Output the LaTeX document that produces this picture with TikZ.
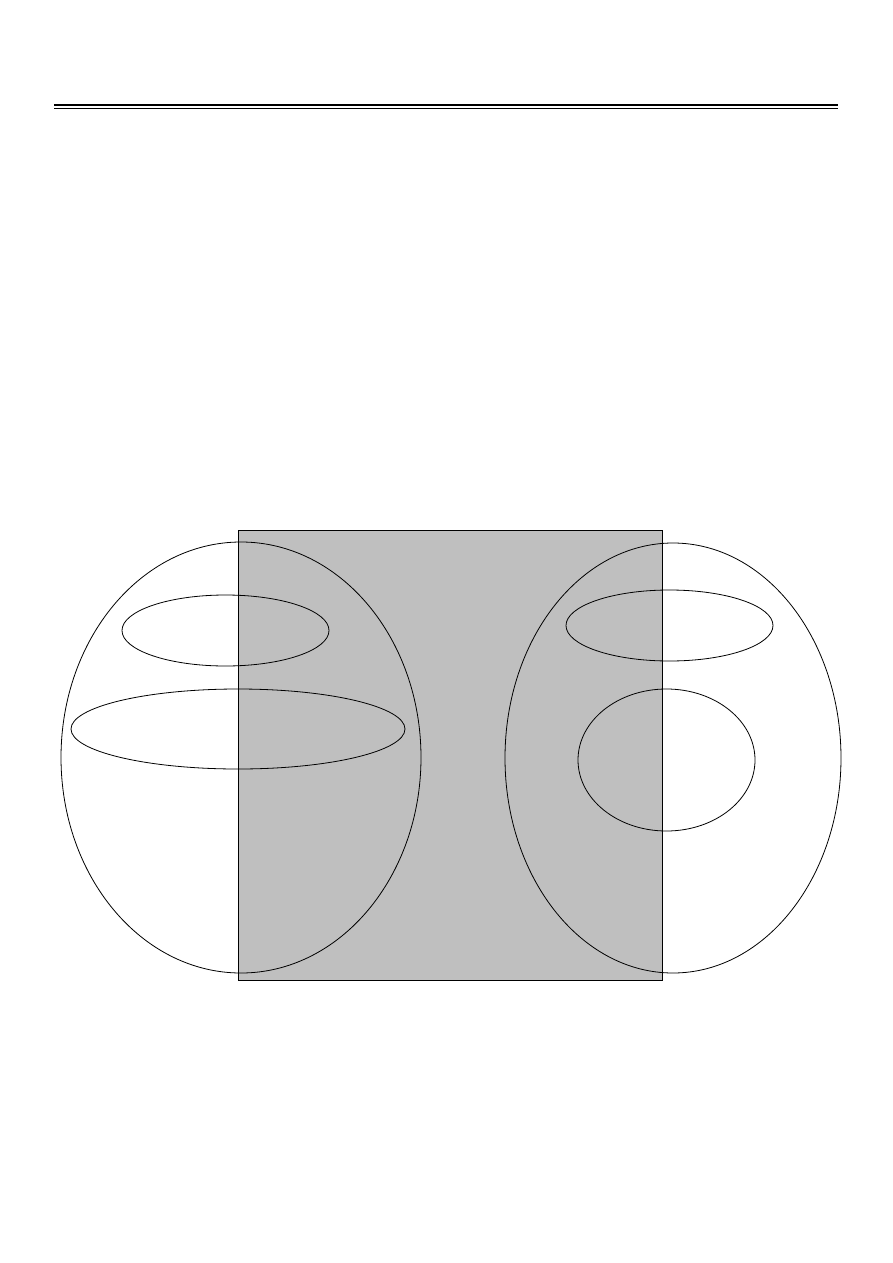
\documentclass[tikz,border=0pt]{standalone}
\begin{document}
\begin{tikzpicture}[x=1pt,y=-1pt,
  outline/.style={draw=black,line width=0.8pt},
  greybox/.style={draw=black,line width=0.8pt,fill=black!25}]
\useasboundingbox (0,0) rectangle (893,1263);
\draw[line width=1.6pt] (54,105) -- (838,105);
\draw[line width=0.7pt] (54,108.5) -- (838,108.5);
\path[greybox] (238,530) rectangle (662,980);
\draw[outline] (241,757.5) ellipse [x radius=180, y radius=215.5];
\draw[outline] (225.5,630.5) ellipse [x radius=103.5, y radius=35.5];
\draw[outline] (238,729) ellipse [x radius=167, y radius=40];
\draw[outline] (673,758) ellipse [x radius=168, y radius=215];
\draw[outline] (669.5,625.5) ellipse [x radius=103.5, y radius=35.5];
\draw[outline] (666.5,760) ellipse [x radius=88.5, y radius=71];
\end{tikzpicture}
\end{document}
